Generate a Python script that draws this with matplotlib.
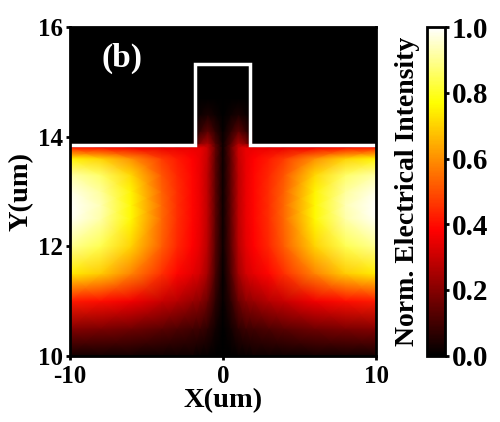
import numpy as np
from matplotlib import pyplot as plt
from matplotlib.colors import LinearSegmentedColormap

# intensity samples (normalized)
xs = [-10, -8, -6, -4, -3, -2, -1.5, -1, -0.5, 0, 0.5, 1, 1.5, 2, 3, 4, 6, 8, 10]
ys = [10, 10.5, 11, 11.5, 12, 12.5, 12.75, 13, 13.3, 13.6, 13.8, 13.88, 14.1, 14.4, 14.7, 16]

intensity = [
    [0.03, 0.03, 0.03, 0.02, 0.02, 0.02, 0.01, 0.01, 0.00, 0.00, 0.00, 0.01, 0.01, 0.02, 0.02, 0.02, 0.03, 0.03, 0.03],
    [0.20, 0.19, 0.17, 0.14, 0.12, 0.10, 0.09, 0.07, 0.03, 0.00, 0.03, 0.07, 0.09, 0.10, 0.12, 0.14, 0.17, 0.19, 0.20],
    [0.42, 0.40, 0.36, 0.30, 0.27, 0.23, 0.21, 0.16, 0.07, 0.01, 0.07, 0.16, 0.21, 0.23, 0.27, 0.30, 0.36, 0.40, 0.42],
    [0.74, 0.69, 0.58, 0.45, 0.39, 0.34, 0.31, 0.24, 0.11, 0.01, 0.11, 0.24, 0.31, 0.34, 0.39, 0.45, 0.58, 0.69, 0.74],
    [0.90, 0.84, 0.70, 0.52, 0.44, 0.38, 0.34, 0.27, 0.13, 0.02, 0.13, 0.27, 0.34, 0.38, 0.44, 0.52, 0.70, 0.84, 0.90],
    [0.99, 0.92, 0.76, 0.54, 0.45, 0.39, 0.35, 0.28, 0.14, 0.02, 0.14, 0.28, 0.35, 0.39, 0.45, 0.54, 0.76, 0.92, 0.99],
    [1.00, 0.93, 0.76, 0.54, 0.45, 0.39, 0.35, 0.28, 0.14, 0.02, 0.14, 0.28, 0.35, 0.39, 0.45, 0.54, 0.76, 0.93, 1.00],
    [0.98, 0.91, 0.75, 0.53, 0.45, 0.39, 0.35, 0.28, 0.14, 0.02, 0.14, 0.28, 0.35, 0.39, 0.45, 0.53, 0.75, 0.91, 0.98],
    [0.92, 0.86, 0.71, 0.51, 0.44, 0.39, 0.35, 0.28, 0.14, 0.02, 0.14, 0.28, 0.35, 0.39, 0.44, 0.51, 0.71, 0.86, 0.92],
    [0.75, 0.70, 0.60, 0.47, 0.42, 0.38, 0.35, 0.29, 0.14, 0.02, 0.14, 0.29, 0.35, 0.38, 0.42, 0.47, 0.60, 0.70, 0.75],
    [0.42, 0.40, 0.37, 0.35, 0.35, 0.35, 0.35, 0.30, 0.15, 0.02, 0.15, 0.30, 0.35, 0.35, 0.35, 0.35, 0.37, 0.40, 0.42],
    [0.00, 0.00, 0.00, 0.00, 0.00, 0.00, 0.20, 0.25, 0.12, 0.02, 0.12, 0.25, 0.20, 0.00, 0.00, 0.00, 0.00, 0.00, 0.00],
    [0.00, 0.00, 0.00, 0.00, 0.00, 0.00, 0.08, 0.14, 0.07, 0.01, 0.07, 0.14, 0.08, 0.00, 0.00, 0.00, 0.00, 0.00, 0.00],
    [0.00, 0.00, 0.00, 0.00, 0.00, 0.00, 0.02, 0.04, 0.02, 0.00, 0.02, 0.04, 0.02, 0.00, 0.00, 0.00, 0.00, 0.00, 0.00],
    [0.00, 0.00, 0.00, 0.00, 0.00, 0.00, 0.00, 0.00, 0.00, 0.00, 0.00, 0.00, 0.00, 0.00, 0.00, 0.00, 0.00, 0.00, 0.00],
    [0.00, 0.00, 0.00, 0.00, 0.00, 0.00, 0.00, 0.00, 0.00, 0.00, 0.00, 0.00, 0.00, 0.00, 0.00, 0.00, 0.00, 0.00, 0.00],
]

# waveguide outline
ridge_x = [-10, -1.8, -1.8, 1.75, 1.75, 10]
ridge_y = [13.85, 13.85, 15.33, 15.33, 13.85, 13.85]

x_ticks = [-10, 0, 10]
y_ticks = [10, 12, 14, 16]
cb_ticks = [0.0, 0.2, 0.4, 0.6, 0.8, 1.0]

plt.rcParams['font.family'] = ['Liberation Serif', 'DejaVu Serif']
plt.rcParams['font.weight'] = 'bold'
plt.rcParams['axes.unicode_minus'] = False

cmap = LinearSegmentedColormap.from_list(
    'hotblack', [(0, 'black'), (0.38, 'red'), (0.77, 'yellow'), (1, 'white')])

fig = plt.figure(figsize=(5, 4.22), dpi=100)
ax = fig.add_axes([0.14, 0.157, 0.612, 0.779])
cax = fig.add_axes([0.854, 0.157, 0.036, 0.779])

X, Y = np.meshgrid(xs, ys)
mesh = ax.pcolormesh(X, Y, np.array(intensity), cmap=cmap, vmin=0, vmax=1, shading='gouraud')
ax.plot(ridge_x, ridge_y, color='white', lw=2.5, solid_joinstyle='miter')

ax.set_xlim(-10, 10)
ax.set_ylim(10, 16)
ax.set_xticks(x_ticks)
ax.set_yticks(y_ticks)
ax.tick_params(labelsize=18, width=2, length=3, direction='out', pad=2)
ax.tick_params(axis='x', pad=4)
ax.set_xlabel('X(um)', fontsize=20.5, fontweight='bold', labelpad=0)
ax.set_ylabel('Y(um)', fontsize=20.5, fontweight='bold', labelpad=3)
for s in ax.spines.values():
    s.set_linewidth(2)
ax.text(-6.6, 15.43, '(b)', color='white', fontsize=24, fontweight='bold', ha='center', va='center')

cb = fig.colorbar(mesh, cax=cax, ticks=cb_ticks)
cb.outline.set_linewidth(2)
cb.ax.tick_params(labelsize=21, width=2, length=3, pad=2)
cb.ax.set_yticklabels(['%.1f' % t for t in cb_ticks])
cb.ax.yaxis.set_label_position('left')
cb.set_label('Norm. Electrical Intensity', fontsize=20, fontweight='bold', labelpad=5)

fig.savefig('out.png', dpi=100)
